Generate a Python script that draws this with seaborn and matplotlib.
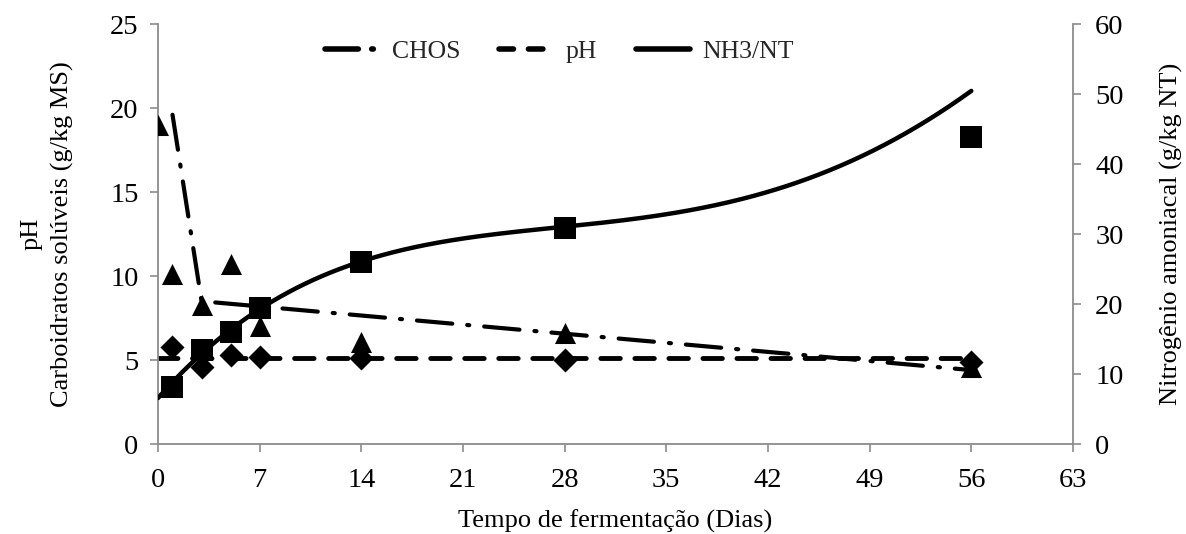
import numpy as np
import pandas as pd
import matplotlib
matplotlib.use("Agg")
import matplotlib.pyplot as plt
import seaborn as sns
from matplotlib.lines import Line2D

# ---- data ----
days_chos = [0, 1, 3, 5, 7, 14, 28, 56]
chos = [19.0, 10.1, 8.3, 10.7, 7.0, 6.1, 6.6, 4.6]

days_ph = [1, 3, 5, 7, 14, 28, 56]
ph = [5.8, 4.6, 5.3, 5.2, 5.1, 5.0, 4.9]

days_nh3 = [1, 3, 5, 7, 14, 28, 56]
nh3 = [8.1, 13.4, 16.0, 19.4, 26.0, 30.9, 43.9]

# fitted trend lines
chos_trend_x = [1, 3, 56]
chos_trend_y = [19.6, 8.5, 4.4]
ph_trend_x = [0, 56]
ph_trend_y = [5.1, 5.1]
nh3_trend_x = [0, 7, 14, 21, 28, 35, 42, 49, 56]
nh3_trend_y = [6.6, 19.2, 26.0, 29.6, 31.0, 32.7, 36.0, 41.8, 50.4]

x_ticks = [0, 7, 14, 21, 28, 35, 42, 49, 56, 63]

# ---- style ----
sns.set_theme(style="white")
plt.rcParams["font.family"] = ["Liberation Serif", "DejaVu Serif"]
FS_TICK = 20.5
FS_LAB = 19
FS_LEG = 18.5
GRAY = "#8c8c8c"

fig = plt.figure(figsize=(11.86, 5.34), dpi=100)
ax = fig.add_axes([0.1332, 0.1685, 0.9047 - 0.1332, 0.955 - 0.1685])
ax2 = ax.twinx()

# smooth NH3 trend via polynomial through read trend points
coef = np.polyfit(nh3_trend_x, nh3_trend_y, 4)
xs = np.linspace(0, 56, 300)
nh3_curve = pd.DataFrame({"x": xs, "y": np.polyval(coef, xs)})

sns.lineplot(x=chos_trend_x, y=chos_trend_y, ax=ax, color="black", lw=3.0,
             legend=False, solid_capstyle="round")
ax.lines[-1].set_dashes([8.5, 3.6, 0.5, 3.6])
ax.lines[-1].set_dash_capstyle("round")
sns.lineplot(x=ph_trend_x, y=ph_trend_y, ax=ax, color="black", lw=3.5, legend=False)
ax.lines[-1].set_dashes([4.0, 3.0])
ax.lines[-1].set_dash_capstyle("round")

sns.scatterplot(x=days_chos, y=chos, ax=ax, marker="^", s=230, color="black",
                edgecolor="black", linewidth=0, zorder=3)
sns.scatterplot(x=days_ph, y=ph, ax=ax, marker="D", s=150, color="black",
                edgecolor="black", linewidth=0, zorder=3)

sns.lineplot(data=nh3_curve, x="x", y="y", ax=ax2, color="black", lw=3.2,
             legend=False, solid_capstyle="round")
sns.scatterplot(x=days_nh3, y=nh3, ax=ax2, marker="s", s=260, color="black",
                edgecolor="black", linewidth=0, zorder=3)

ax.set_xlim(0, 63)
ax.set_ylim(0, 25)
ax2.set_ylim(0, 60)
ax.set_xticks(x_ticks)
ax.set_yticks([0, 5, 10, 15, 20, 25])
ax2.set_yticks([0, 10, 20, 30, 40, 50, 60])

for a in (ax, ax2):
    for s in a.spines.values():
        s.set_visible(False)
ax.spines["left"].set_visible(True)
ax.spines["bottom"].set_visible(True)
ax2.spines["right"].set_visible(True)
for s in (ax.spines["left"], ax.spines["bottom"], ax2.spines["right"]):
    s.set_color(GRAY)
    s.set_linewidth(1.3)

ax.tick_params(axis="both", which="major", direction="out", length=6, width=1.2,
               color=GRAY, labelsize=FS_TICK, labelcolor="black", pad=8,
               left=True, bottom=True)
ax2.tick_params(axis="y", direction="out", length=6, width=1.2, color=GRAY,
                labelsize=FS_TICK, labelcolor="black", pad=10, right=True)
ax.tick_params(axis="x", pad=11)

ax.set_xlabel("Tempo de fermentação (Dias)", fontsize=FS_LAB, color="black", labelpad=12)
ax.set_ylabel("pH\nCarboidratos solúveis (g/kg MS)", fontsize=FS_LAB, color="black",
              labelpad=26, linespacing=1.45)
ax2.set_ylabel("Nitrogênio amoniacal (g/kg NT)", fontsize=FS_LAB, color="black", labelpad=26)
ax.grid(False)
ax2.grid(False)

handles = [
    Line2D([], [], color="black", lw=4, dashes=[6.0, 2.4, 0.3, 12.0], dash_capstyle="round"),
    Line2D([], [], color="black", lw=4, dashes=[2.6, 2.7], dash_capstyle="round"),
    Line2D([], [], color="black", lw=4),
]
leg = ax2.legend(handles, ["CHOS", "pH", "NH3/NT"], loc="center",
                 bbox_to_anchor=(0.439, 0.935), ncol=3, frameon=False,
                 fontsize=FS_LEG, handlelength=2.1, handletextpad=0.5,
                 columnspacing=1.5)

fig.savefig("out.png", dpi=100)
